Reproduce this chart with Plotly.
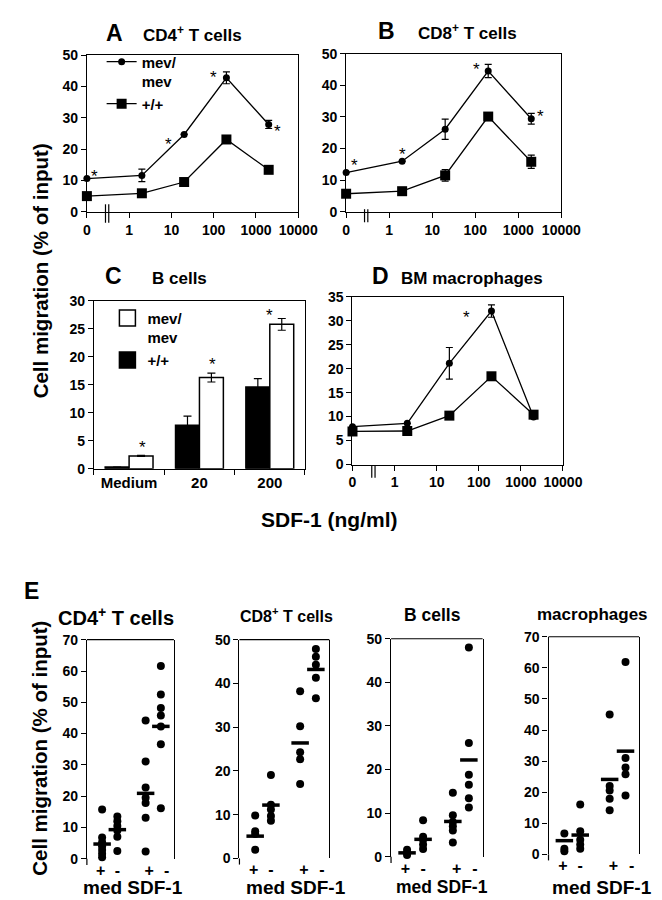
import plotly.graph_objects as go

W, H = 662, 900
FONT = "Liberation Sans, Arial, Helvetica, sans-serif"

# ---------------- data ----------------
conc = [0, 2, 20, 200, 2000]                      # SDF-1 ng/ml ("0" drawn one decade below 1)
conc_tickvals = [0.1, 1, 10, 100, 1000, 10000]
conc_ticktext = ["0", "1", "10", "100", "1000", "10000"]

a_mev = [10.6, 11.6, 24.7, 42.8, 27.9]
a_mev_err = [0, 2.0, 0, 1.9, 1.3]
a_wt = [5.0, 5.9, 9.5, 23.1, 13.4]
a_wt_err = [0, 0, 0, 0, 0]

b_mev = [12.4, 16.0, 26.1, 44.5, 29.4]
b_mev_err = [0, 0, 3.2, 2.1, 1.7]
b_wt = [5.7, 6.5, 11.5, 30.1, 15.8]
b_wt_err = [0, 0, 1.8, 0, 2.1]

c_cats = ["Medium", "20", "200"]
c_wt = [0.3, 7.8, 14.6]
c_wt_err = [0, 1.6, 1.5]
c_mev = [2.3, 16.3, 25.8]
c_mev_err = [0.1, 0.8, 1.05]

d_mev = [7.9, 8.6, 21.1, 32.0, 9.9]
d_mev_err = [0, 0, 3.3, 1.3, 0]
d_wt = [6.9, 7.0, 10.2, 18.4, 10.4]
d_wt_err = [0, 0, 0, 0, 0.8]

e_ticktext = ["+", "-", "+", "-"]
# groups: med +/+, med mev/mev, SDF-1 +/+, SDF-1 mev/mev
e_cd4 = [[15.7, 6.8, 5.3, 4.0, 2.8, 1.6, 0.5],
         [13.5, 12.0, 10.5, 9.0, 7.0, 2.5],
         [44.2, 31.1, 22.8, 19.5, 17.8, 13.1, 2.3],
         [61.6, 52.5, 48.2, 45.8, 42.3, 36.6, 16.1]]
e_cd4_mean = [4.7, 9.3, 20.9, 42.3]
e_cd8 = [[9.8, 6.2, 5.6, 2.0],
         [19.1, 12.3, 11.2, 9.7, 8.6],
         [38.2, 30.2, 24.3, 22.7, 17.0],
         [47.9, 46.1, 44.3, 41.3, 36.6]]
e_cd8_mean = [5.1, 12.2, 26.4, 43.2]
e_b = [[1.6, 0.9, 0.4],
       [8.4, 4.6, 3.9, 2.8, 1.8],
       [14.7, 9.5, 8.0, 7.0, 6.0, 3.3],
       [48.0, 26.1, 18.8, 16.5, 13.4, 11.3]]
e_b_mean = [0.9, 4.0, 8.1, 22.2]
e_mac = [[6.7, 1.8, 1.0],
         [16.0, 7.4, 4.7, 3.2, 1.8],
         [45.0, 22.0, 20.5, 17.9, 14.2],
         [61.9, 31.0, 27.9, 25.8, 18.9]]
e_mac_mean = [4.4, 6.2, 24.1, 33.2]

# ---------------- helpers ----------------
def xd(l, r):
    return [l / W, r / W]

def yd(t, b):
    return [1 - b / H, 1 - t / H]

tickfont = dict(family=FONT, size=14, color="black", weight="bold")
e_pos = [1.05, 2.1, 4.05, 5.1]
e_lbl = [0.95, 2.1, 4.3, 5.5]
plot_conc = [c if c > 0 else 0.1 for c in conc]

fig = go.Figure()

def err(arr):
    return dict(type="data", array=arr, visible=True, color="black", thickness=1.2, width=3.5)

def line_panel(xa, ya, mev, mev_err, wt, wt_err, show):
    fig.add_trace(go.Scatter(
        x=plot_conc, y=mev, xaxis=xa, yaxis=ya, mode="lines+markers", name="mev/<br>mev",
        marker=dict(symbol="circle", size=7, color="black"), line=dict(color="black", width=1.3),
        error_y=err(mev_err), cliponaxis=False, showlegend=show, legendrank=1))
    fig.add_trace(go.Scatter(
        x=plot_conc, y=wt, xaxis=xa, yaxis=ya, mode="lines+markers", name="+/+",
        marker=dict(symbol="square", size=10, color="black"), line=dict(color="black", width=1.3),
        error_y=err(wt_err), cliponaxis=False, showlegend=show, legendrank=2))

line_panel("x", "y", a_mev, a_mev_err, a_wt, a_wt_err, True)
line_panel("x2", "y2", b_mev, b_mev_err, b_wt, b_wt_err, False)
line_panel("x4", "y4", d_mev, d_mev_err, d_wt, d_wt_err, False)

# panel C bars
fig.add_trace(go.Bar(x=c_cats, y=c_wt, xaxis="x3", yaxis="y3", name="+/+",
                     marker=dict(color="black", line=dict(color="black", width=1.5)),
                     error_y=dict(type="data", array=c_wt_err, color="black", thickness=1.2, width=4),
                     showlegend=False))
fig.add_trace(go.Bar(x=c_cats, y=c_mev, xaxis="x3", yaxis="y3", name="mev/<br>mev",
                     marker=dict(color="white", line=dict(color="black", width=1.5)),
                     error_y=dict(type="data", array=c_mev_err, color="black", thickness=1.2, width=4),
                     showlegend=False))
# legend entries for C
fig.add_trace(go.Scatter(x=[None], y=[None], xaxis="x3", yaxis="y3", mode="markers", name="mev/<br>mev",
                         marker=dict(symbol="square", size=16, color="white", line=dict(color="black", width=1.5)),
                         legend="legend2", legendrank=1))
fig.add_trace(go.Scatter(x=[None], y=[None], xaxis="x3", yaxis="y3", mode="markers", name="+/+",
                         marker=dict(symbol="square", size=16, color="black", line=dict(color="black", width=1.5)),
                         legend="legend2", legendrank=2))

# panel E scatter
e_sets = [(e_cd4, e_cd4_mean, "x5", "y5"), (e_cd8, e_cd8_mean, "x6", "y6"),
          (e_b, e_b_mean, "x7", "y7"), (e_mac, e_mac_mean, "x8", "y8")]
for vals, means, xa, ya in e_sets:
    xs, ys = [], []
    for g, arr in enumerate(vals):
        xs += [e_pos[g]] * len(arr)
        ys += arr
    fig.add_trace(go.Scatter(x=xs, y=ys, xaxis=xa, yaxis=ya, mode="markers",
                             marker=dict(size=8, color="black"), cliponaxis=False, showlegend=False))
    fig.add_trace(go.Scatter(x=e_pos, y=means, xaxis=xa, yaxis=ya, mode="markers",
                             marker=dict(symbol="line-ew", size=12.5, color="black",
                                         line=dict(width=3.5, color="black")),
                             cliponaxis=False, showlegend=False))

# ---------------- axes ----------------
def log_x(dom, anchor):
    return dict(domain=dom, anchor=anchor, type="log", range=[-1, 4], tickvals=conc_tickvals,
                ticktext=conc_ticktext, showline=True, linecolor="black", linewidth=1.2, mirror=True,
                ticks="outside", ticklen=5, tickwidth=1.2, tickcolor="black", showgrid=False,
                zeroline=False, tickfont=tickfont)

def lin_y(dom, anchor, rng, dtick, mirror=True):
    return dict(domain=dom, anchor=anchor, range=rng, dtick=dtick, tick0=0, showline=True,
                linecolor="black", linewidth=1.2, mirror=mirror, ticks="outside", ticklen=5,
                tickwidth=1.2, tickcolor="black", showgrid=False, zeroline=False, tickfont=tickfont)

def e_x(dom, anchor):
    return dict(domain=dom, anchor=anchor, range=[0, 6], tickvals=e_lbl, ticktext=e_ticktext,
                showline=False, ticks="", showgrid=False, zeroline=False,
                tickfont=dict(family=FONT, size=16, color="black", weight="bold"))

layout = dict(
    xaxis=log_x(xd(77.7, 297), "y"), yaxis=lin_y(yd(40, 199.3), "x", [0, 50], 10),
    xaxis2=log_x(xd(346.7, 570), "y2"), yaxis2=lin_y(yd(38.3, 199.3), "x2", [0, 50], 10),
    xaxis3=dict(domain=xd(85, 304), anchor="y3", type="category", showline=True, linecolor="black",
                linewidth=1.2, mirror=True, ticks="outside", tickson="boundaries", ticklen=5,
                tickwidth=1.2, tickcolor="black", showgrid=False, zeroline=False,
                tickfont=dict(family=FONT, size=15, color="black", weight="bold")),
    yaxis3=lin_y(yd(290, 461), "x3", [0, 30], 5),
    xaxis4=log_x(xd(353.3, 571.7), "y4"), yaxis4=lin_y(yd(285.7, 456.7), "x4", [0, 35], 5),
    xaxis5=e_x(xd(77.7, 168), "y5"), yaxis5=lin_y(yd(635, 858), "x5", [0, 70], 10),
    xaxis6=e_x(xd(236, 329.3), "y6"), yaxis6=lin_y(yd(635, 857.7), "x6", [0, 50], 10),
    xaxis7=e_x(xd(393.3, 488.3), "y7"), yaxis7=lin_y(yd(634, 856), "x7", [0, 50], 10),
    xaxis8=e_x(xd(556.7, 650.7), "y8"), yaxis8=lin_y(yd(632, 853.5), "x8", [0, 70], 10),
)
fig.update_layout(**layout)

# ---------------- decorations ----------------
def pline(x0, y0, x1, y1):
    return dict(type="line", xref="paper", yref="paper", x0=x0 / W, x1=x1 / W,
                y0=1 - y0 / H, y1=1 - y1 / H, line=dict(color="black", width=1.2))

shapes = []
# axis-break marks "||"
for bx, ytop, ybot in [(97.0, 191.7, 210.5), (365.8, 196.7, 210.0), (373.3, 458.0, 470.0)]:
    shapes.append(pline(bx, ytop, bx, ybot))
    shapes.append(pline(bx + 3.4, ytop, bx + 3.4, ybot))
for n in (5, 6, 7, 8):
    shapes.append(dict(type="line", xref=f"x{n} domain", yref=f"y{n} domain", x0=0, x1=1, y0=1, y1=1,
                       line=dict(color="black", width=1.2)))
    shapes.append(dict(type="line", xref=f"x{n} domain", yref=f"y{n} domain", x0=0, x1=0,
                       y0=0, y1=-0.028, line=dict(color="black", width=1.2)))

def ann(text, x, y, size, angle=0, bold=True):
    return dict(text=f"<b>{text}</b>" if bold else text, x=x / W, y=1 - y / H, xref="paper",
                yref="paper", showarrow=False, textangle=angle, xanchor="center", yanchor="middle",
                font=dict(family=FONT, size=size, color="black"))

def star(xr, yr, x, y):
    return dict(text="*", x=x, y=y, xref=xr, yref=yr, showarrow=False, yshift=-4,
                font=dict(family=FONT, size=17, color="black"))

annotations = [
    ann("A", 106.5, 17.5, 23), ann("CD4<sup>+</sup> T cells", 187.5, 18.5, 17),
    ann("B", 388.3, 15.5, 23), ann("CD8<sup>+</sup> T cells", 473, 16.5, 17),
    ann("C", 105, 265, 23), ann("B cells", 174, 267, 17),
    ann("D", 382.5, 265, 23), ann("BM macrophages", 477, 267.5, 17),
    ann("Cell migration (% of input)", 29, 259, 20.5, angle=-90),
    ann("SDF-1 (ng/ml)", 329, 513, 21),
    ann("E", 20, 585, 23),
    ann("Cell migration (% of input)", 29, 745, 20.5, angle=-90),
    ann("CD4<sup>+</sup> T cells", 107.5, 611.7, 20), ann("CD8<sup>+</sup> T cells", 285, 610, 16),
    ann("B cells", 436.7, 610, 17.5), ann("macrophages", 602.5, 609, 17),
    ann("med SDF-1", 126, 887, 19), ann("med SDF-1", 295, 887, 19),
    ann("med SDF-1", 445.8, 887, 17.5), ann("med SDF-1", 612, 887, 19),
    star("x", "y", -0.81, 12.6), star("x", "y", 0.927, 22.8), star("x", "y", 2.0, 44.3),
    star("x", "y", 3.52, 27.0),
    star("x2", "y2", -0.814, 15.8), star("x2", "y2", 0.305, 19.4), star("x2", "y2", 2.02, 46.4),
    star("x2", "y2", 3.51, 31.4),
    star("x3", "y3", 0.19, 4.56), star("x3", "y3", 1.19, 19.35), star("x3", "y3", 1.99, 28.1),
    star("x4", "y4", 1.71, 31.4),
]

legend_font = dict(family=FONT, size=15, color="black", weight="bold")
fig.update_layout(
    width=W, height=H, autosize=False, margin=dict(l=0, r=0, t=0, b=0),
    paper_bgcolor="white", plot_bgcolor="white",
    barmode="group", bargap=0.32, bargroupgap=0,
    shapes=shapes, annotations=annotations, showlegend=True,
    legend=dict(x=93 / W, y=1 - 30 / H, xanchor="left", yanchor="top", font=legend_font,
                bgcolor="rgba(0,0,0,0)", borderwidth=0, valign="top", itemwidth=30, tracegroupgap=0),
    legend2=dict(x=99 / W, y=1 - 291 / H, xanchor="left", yanchor="top", font=legend_font,
                 bgcolor="rgba(0,0,0,0)", borderwidth=0, valign="top", itemwidth=30, tracegroupgap=0),
)

fig.write_html("out.html")
